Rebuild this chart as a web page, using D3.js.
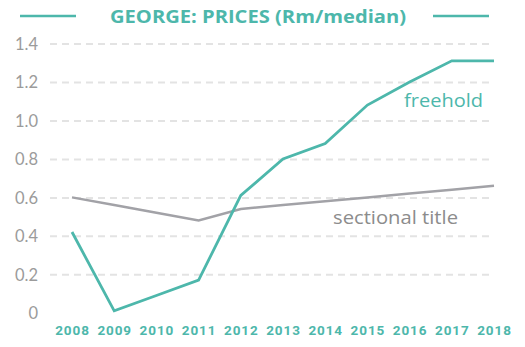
<!DOCTYPE html>
<html>
<head>
<meta charset="utf-8">
<script src="https://cdn.jsdelivr.net/npm/d3@7"></script>
<style>
  html, body { margin: 0; padding: 0; background: #fff; }
  svg { display: block; }
</style>
</head>
<body>
<svg id="chart" width="525" height="347"></svg>
<script>
// George property prices, R million per median sale
const years = ["2008","2009","2010","2011","2012","2013","2014","2015","2016","2017","2018"];
const freehold = [0.42, 0.01, 0.09, 0.17, 0.61, 0.80, 0.88, 1.08, 1.20, 1.31, 1.31];
const sectionalTitle = [0.60, 0.56, 0.52, 0.48, 0.54, 0.56, 0.58, 0.60, 0.62, 0.64, 0.66];
const yTicks = [0, 0.2, 0.4, 0.6, 0.8, 1.0, 1.2, 1.4];
const yTickLabels = ["0", "0.2", "0.4", "0.6", "0.8", "1.0", "1.2", "1.4"];
const titleText = "GEORGE: PRICES (Rm/median)";

const teal = "#4db7ab";
const grey = "#a2a2a7";

const svg = d3.select("#chart");

const x = d3.scalePoint().domain(years).range([72, 494]);
const y = d3.scaleLinear().domain([0, 1.4]).range([312.8, 43.5]);

// Title with rules either side
svg.append("text")
  .attr("x", 258).attr("y", 23)
  .attr("text-anchor", "middle")
  .attr("font-family", "'Open Sans', sans-serif")
  .attr("font-weight", 700)
  .attr("font-size", 18)
  .attr("fill", teal)
  .attr("textLength", 296)
  .attr("lengthAdjust", "spacingAndGlyphs")
  .text(titleText);
[[20, 76], [433, 489]].forEach(([a, b]) => {
  svg.append("line")
    .attr("x1", a).attr("x2", b).attr("y1", 16).attr("y2", 16)
    .attr("stroke", teal).attr("stroke-width", 2.5);
});

// Horizontal dashed gridlines (none at zero)
const yAxis = d3.axisLeft(y)
  .tickValues(yTicks)
  .tickFormat((d, i) => yTickLabels[i])
  .tickSize(0)
  .tickPadding(0);
const gy = svg.append("g").attr("transform", "translate(38,0)").call(yAxis);
gy.select(".domain").remove();
gy.selectAll(".tick text")
  .attr("font-family", "Lato, sans-serif")
  .attr("font-size", 16.5)
  .attr("fill", "#9b9b9b")
  .attr("dy", "0.35em");
gy.selectAll(".tick").filter(d => d > 0)
  .append("line")
  .attr("x1", 12).attr("x2", 455)
  .attr("stroke", "#e3e3e3")
  .attr("stroke-width", 2)
  .attr("stroke-dasharray", "7,5");

// Year labels
const xAxis = d3.axisBottom(x).tickSize(0).tickPadding(0);
const gx = svg.append("g").attr("transform", "translate(0,330)").call(xAxis);
gx.select(".domain").remove();
gx.selectAll(".tick text")
  .attr("font-family", "Roboto, sans-serif")
  .attr("font-weight", 700)
  .attr("font-size", 13.5)
  .attr("letter-spacing", 0.9)
  .attr("fill", teal)
  .attr("dy", "0.35em");

// Series lines
const line = d3.line()
  .x((d, i) => x(years[i]))
  .y(d => y(d));

svg.append("path")
  .datum(sectionalTitle)
  .attr("d", line)
  .attr("fill", "none")
  .attr("stroke", grey)
  .attr("stroke-width", 2.5);

svg.append("path")
  .datum(freehold)
  .attr("d", line)
  .attr("fill", "none")
  .attr("stroke", teal)
  .attr("stroke-width", 2.8);

// Series labels
svg.append("text")
  .attr("x", 483).attr("y", 107)
  .attr("text-anchor", "end")
  .attr("font-family", "'Open Sans', sans-serif")
  .attr("font-size", 19)
  .attr("fill", teal)
  .attr("textLength", 79)
  .attr("lengthAdjust", "spacingAndGlyphs")
  .text("freehold");

svg.append("text")
  .attr("x", 458).attr("y", 224)
  .attr("text-anchor", "end")
  .attr("font-family", "'Open Sans', sans-serif")
  .attr("font-size", 18)
  .attr("fill", "#8c8c8c")
  .attr("textLength", 125)
  .attr("lengthAdjust", "spacingAndGlyphs")
  .text("sectional title");
</script>
</body>
</html>
